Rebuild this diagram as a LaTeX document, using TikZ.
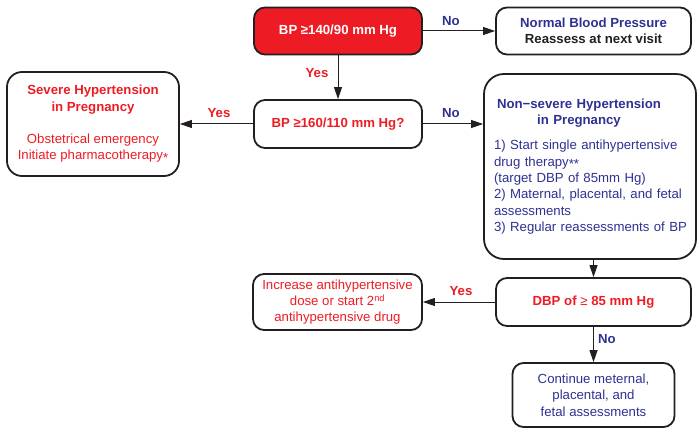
\documentclass[tikz,border=0pt]{standalone}
\usepackage{fontspec}
\setmainfont{Liberation Sans}
\usetikzlibrary{arrows.meta}
\definecolor{ChartRed}{RGB}{237,28,36}
\definecolor{ChartBlue}{RGB}{46,49,146}
\definecolor{ChartBlack}{RGB}{35,31,32}
\newcommand{\chartfont}{\fontsize{13.2}{16.3}\selectfont}
\newcommand{\lowstar}{\raisebox{-2.5pt}{*}}

\begin{document}
\begin{tikzpicture}[x=1pt,y=-1pt,
		box/.style={draw=ChartBlack, line width=1.8pt, rounded corners=11pt, align=center, inner sep=0pt, font=\chartfont},
		flow/.style={line width=1pt, draw=ChartBlack, -{Triangle[length=12pt,width=8pt]}},
		answer/.style={font=\chartfont\bfseries}]
		\useasboundingbox (0,0) rectangle (700,430);
		% boxes
		\node[box, fill=ChartRed, text=white, minimum width=168pt, minimum height=47pt]
		(bpHigh) at (338,31) {\textbf{BP ≥140/90 mm Hg}};
		\node[box, text=ChartBlue, minimum width=195pt, minimum height=47pt]
		(normalBp) at (593.5,31) {\textbf{Normal Blood Pressure}\\{\color{ChartBlack}\textbf{Reassess at next visit}}};
		\node[box, text=ChartRed, rounded corners=15pt, minimum width=172pt, minimum height=104pt]
		(severe) at (93,124) {\textbf{Severe Hypertension}\\\textbf{in Pregnancy}\\[16pt]Obstetrical emergency\\Initiate pharmacotherapy\lowstar};
		\node[box, text=ChartRed, minimum width=168pt, minimum height=48pt]
		(bpSevere) at (338,124) {\textbf{BP ≥160/110 mm Hg?}};
		\node[box, text=ChartBlue, rounded corners=20pt, minimum width=212pt, minimum height=185pt, text width=192pt, align=left]
		(nonSevere) at (590,166.5) {\parbox[t]{170pt}{\centering\bfseries Non−severe Hypertension\\in Pregnancy}\\[12pt]
			1) Start single antihypertensive\\drug therapy\lowstar\lowstar\\(target DBP of 85mm Hg)\\2) Maternal, placental, and fetal\\assessments\\\mbox{3) Regular reassessments of BP}};
		\node[box, text=ChartRed, minimum width=195pt, minimum height=48pt]
		(dbp) at (593.5,302) {\textbf{DBP of {\mdseries ≥} 85 mm Hg}};
		\node[box, text=ChartRed, minimum width=169pt, minimum height=56pt]
		(increase) at (337.5,302) {Increase antihypertensive\\dose or start 2\textsuperscript{nd}\\antihypertensive drug};
		\node[box, text=ChartBlue, minimum width=162pt, minimum height=64pt]
		(cont) at (593.5,395) {Continue meternal,\\placental, and\\fetal assessments};
		% arrows
		\draw[flow] (bpHigh) -- (bpSevere);
		\draw[flow] (bpHigh) -- (normalBp);
		\draw[flow] (bpSevere) -- (severe);
		\draw[flow] (bpSevere.east) -- (bpSevere.east -| nonSevere.west);
		\draw[flow] (dbp.north |- nonSevere.south) -- (dbp.north);
		\draw[flow] (dbp) -- (increase);
		\draw[flow] (dbp) -- (cont);
		% answers
		\node[answer, text=ChartRed] (yesDown) at (317,73) {Yes};
		\node[answer, text=ChartBlue] (noNormal) at (451,21) {No};
		\node[answer, text=ChartRed] (yesSevere) at (219,113) {Yes};
		\node[answer, text=ChartBlue] (noMild) at (451,113) {No};
		\node[answer, text=ChartRed] (yesIncrease) at (461,291) {Yes};
		\node[answer, text=ChartBlue] (noContinue) at (607,339) {No};
	\end{tikzpicture}
\end{document}
